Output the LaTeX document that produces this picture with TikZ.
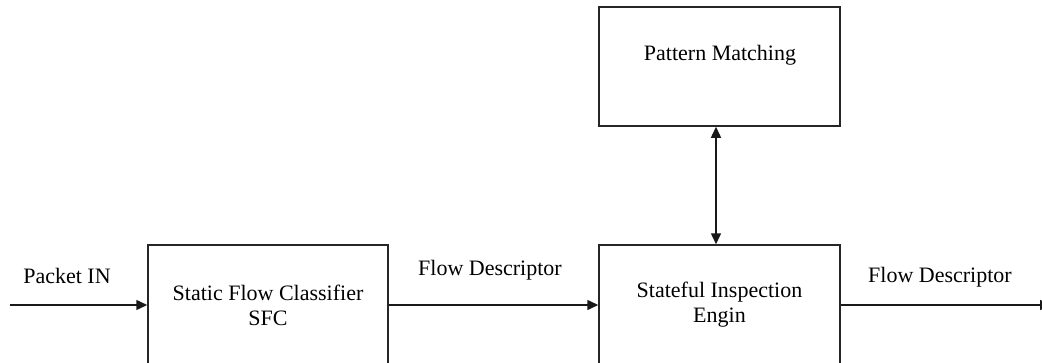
\documentclass[tikz,border=0pt]{standalone}
\usepackage{fontspec}
\setmainfont{Liberation Serif}
\usetikzlibrary{arrows.meta}
\begin{document}
\begin{tikzpicture}[x=1pt,y=-1pt,
  block/.style={draw=black!85,line width=1.5pt,rectangle,inner sep=0pt,
    align=center,font=\fontsize{22}{25}\selectfont},
  txt/.style={inner sep=0pt,font=\fontsize{22}{25}\selectfont},
  flow/.style={draw=black!90,line width=1.5pt,-{Triangle[length=11pt,width=10pt]}},
  both/.style={draw=black!90,line width=1.5pt,{Triangle[length=11pt,width=10pt]}-{Triangle[length=11pt,width=10pt]}}]
\useasboundingbox (0,0) rectangle (1042,362);
\clip (0,0) rectangle (1042,362);
% processing blocks
\node[block,minimum width=240pt,minimum height=120pt] (sfc) at (268,305)
  {Static Flow Classifier\\SFC};
\node[block,minimum width=241pt,minimum height=120pt] (sie) at (719.5,305)
  {Stateful Inspection\\Engin};
\node[block,minimum width=241pt,minimum height=119pt] (pm) at (719.5,66.5) {};
\node[txt] (pmtext) at (720,55) {Pattern Matching};
% connectors
\coordinate (in) at (10,305);
\coordinate (out) at (1051,305);
\coordinate (vx) at (716,0);
\draw[flow] (in) -- (sfc.west);
\draw[flow] (sfc.east) -- (sie.west);
\draw[flow] (sie.east) -- (out);
\draw[both] (pm.south -| vx) -- (sie.north -| vx);
% connector labels
\node[txt] (lin) at (67,276) {Packet IN};
\node[txt] (lmid) at (490,270) {Flow Descriptor};
\node[txt] (lout) at (940,277) {Flow Descriptor};
\end{tikzpicture}
\end{document}
